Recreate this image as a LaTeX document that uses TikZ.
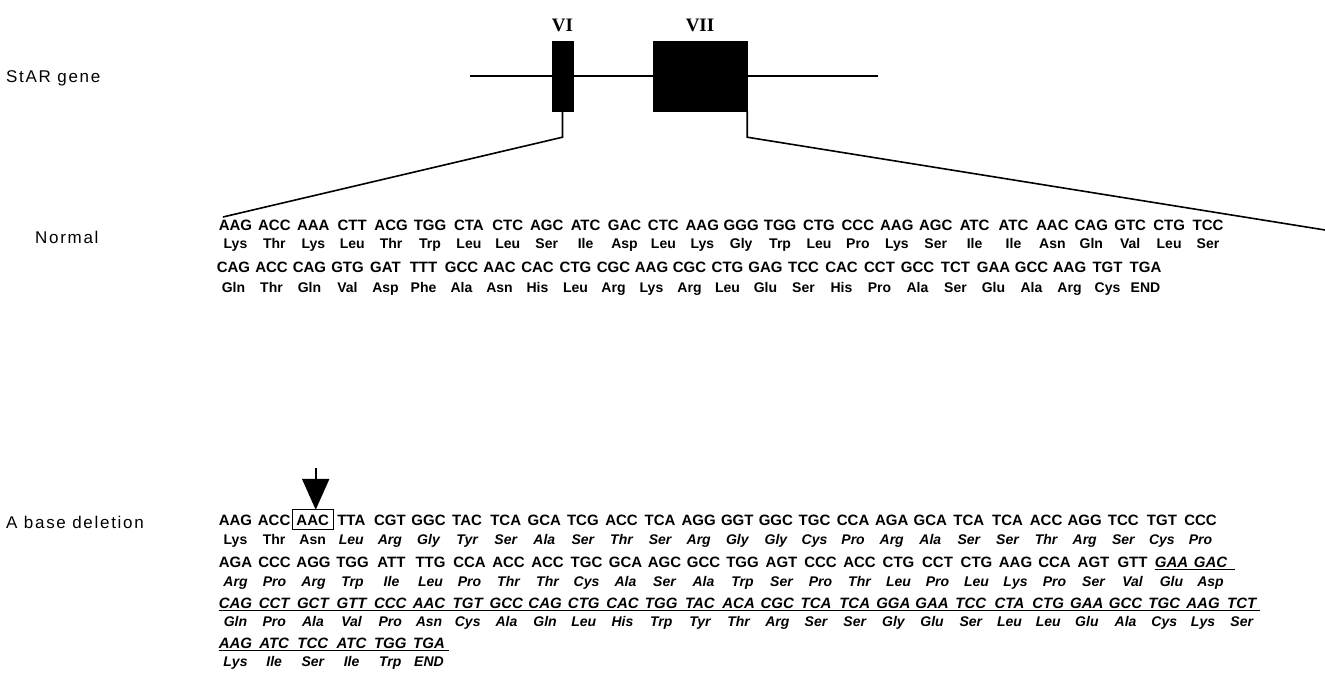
\documentclass[tikz,border=0pt]{standalone}
\usepackage{fontspec}
\setmainfont{Liberation Sans}
\newfontfamily\exonfont{Liberation Serif}
\newfontfamily\tagfont[LetterSpace=10]{Liberation Sans}
\usetikzlibrary{arrows.meta, positioning}

\begin{document}
\begin{tikzpicture}[x=1pt, y=-1pt,
    dna/.style={inner sep=0pt, text height=11pt, text depth=3pt,
      font=\fontsize{15}{17}\selectfont\bfseries},
    dnait/.style={dna, font=\fontsize{15}{17}\selectfont\bfseries\itshape},
    amino/.style={inner sep=0pt, text height=10pt, text depth=3pt,
      font=\fontsize{14}{16}\selectfont\bfseries},
    aminoit/.style={amino, font=\fontsize{14}{16}\selectfont\bfseries\itshape},
    tag/.style={anchor=west, inner sep=0pt, font=\tagfont\fontsize{17}{19}\selectfont},
    exon/.style={draw, fill=black, inner sep=0pt, minimum height=70},
    exonlab/.style={inner sep=0pt, font=\exonfont\bfseries\fontsize{19}{21}\selectfont},
    gene/.style={line width=1.8pt},
    lead/.style={line width=1.6pt},
    uline/.style={line width=1.4pt},
    pointer/.style={line width=2.2pt, -{Triangle[width=27pt,length=31pt]}},
  ]
  \useasboundingbox (0,0) rectangle (1325,674);

  % gene map
  \node[tag] (star) at (6,78) {StAR gene};
  \node[exon, minimum width=21] (exVI) at (562.5,76) {};
  \node[exon, minimum width=94] (exVII) at (700,76) {};
  \node[exonlab, above=9pt of exVI] (labVI) {VI};
  \node[exonlab, above=9pt of exVII] (labVII) {VII};
  \coordinate (gl) at (470,76);
  \coordinate (gr) at (878,76);
  \draw[gene] (gl) -- (exVI) -- (exVII) -- (gr);

  % normal sequence
  \node[tag] (normal) at (35,237) {Normal};
  \foreach \c/\a [count=\i from 0] in {AAG/Lys, ACC/Thr, AAA/Lys, CTT/Leu, ACG/Thr,
      TGG/Trp, CTA/Leu, CTC/Leu, AGC/Ser, ATC/Ile, GAC/Asp, CTC/Leu, AAG/Lys, GGG/Gly,
      TGG/Trp, CTG/Leu, CCC/Pro, AAG/Lys, AGC/Ser, ATC/Ile, ATC/Ile, AAC/Asn, CAG/Gln,
      GTC/Val, CTG/Leu, TCC/Ser} {
    \node[dna] (n1c\i) at ({235.5+\i*38.9},226) {\c};
    \node[amino] (n1a\i) at ({235.5+\i*38.9},245) {\a};
  }
  \foreach \c/\a [count=\i from 0] in {CAG/Gln, ACC/Thr, CAG/Gln, GTG/Val, GAT/Asp,
      TTT/Phe, GCC/Ala, AAC/Asn, CAC/His, CTG/Leu, CGC/Arg, AAG/Lys, CGC/Arg, CTG/Leu,
      GAG/Glu, TCC/Ser, CAC/His, CCT/Pro, GCC/Ala, TCT/Ser, GAA/Glu, GCC/Ala, AAG/Arg,
      TGT/Cys, TGA/END} {
    \node[dna] (n2c\i) at ({233.5+\i*38.0},268) {\c};
    \node[amino] (n2a\i) at ({233.5+\i*38.0},289) {\a};
  }

  % zoom-in leads
  \coordinate (lfoot) at (223,217);
  \coordinate (rfoot) at (1325,230);
  \draw[lead] (exVI.south) -- ++(0,26) -- (lfoot);
  \draw[lead] (exVII.south east) -- ++(0,26) -- (rfoot);

  % deletion sequence
  \node[tag] (deletion) at (6,522) {A base deletion};
  \foreach \c/\a [count=\i from 0] in {AAG/Lys, ACC/Thr, AAC/Asn} {
    \node[dna] (d1c\i) at ({235.5+\i*38.6},521) {\c};
    \node[amino] (d1a\i) at ({235.5+\i*38.6},541) {\a};
  }
  \foreach \c/\a [count=\i from 3] in {TTA/Leu, CGT/Arg, GGC/Gly, TAC/Tyr, TCA/Ser,
      GCA/Ala, TCG/Ser, ACC/Thr, TCA/Ser, AGG/Arg, GGT/Gly, GGC/Gly, TGC/Cys, CCA/Pro,
      AGA/Arg, GCA/Ala, TCA/Ser, TCA/Ser, ACC/Thr, AGG/Arg, TCC/Ser, TGT/Cys, CCC/Pro} {
    \node[dna] (d1c\i) at ({235.5+\i*38.6},521) {\c};
    \node[aminoit] (d1a\i) at ({235.5+\i*38.6},541) {\a};
  }
  \draw[line width=1.2pt] ([xshift=-4pt,yshift=4pt]d1c2.north west)
    rectangle ([xshift=4pt,yshift=-1.5pt]d1c2.south east);
  \coordinate (arrtail) at ([xshift=3pt,yshift=46pt]d1c2.north);
  \draw[pointer] (arrtail) -- ([xshift=3pt,yshift=4pt]d1c2.north);

  \foreach \c/\a [count=\i from 0] in {AGA/Arg, CCC/Pro, AGG/Arg, TGG/Trp, ATT/Ile,
      TTG/Leu, CCA/Pro, ACC/Thr, ACC/Thr, TGC/Cys, GCA/Ala, AGC/Ser, GCC/Ala, TGG/Trp,
      AGT/Ser, CCC/Pro, ACC/Thr, CTG/Leu, CCT/Pro, CTG/Leu, AAG/Lys, CCA/Pro, AGT/Ser,
      GTT/Val} {
    \node[dna] (d2c\i) at ({235.5+\i*39.0},563) {\c};
    \node[aminoit] (d2a\i) at ({235.5+\i*39.0},583) {\a};
  }
  \foreach \c/\a [count=\i from 24] in {GAA/Glu, GAC/Asp} {
    \node[dnait] (d2c\i) at ({235.5+\i*39.0},563) {\c};
    \node[aminoit] (d2a\i) at ({235.5+\i*39.0},583) {\a};
  }
  \foreach \c/\a [count=\i from 0] in {CAG/Gln, CCT/Pro, GCT/Ala, GTT/Val, CCC/Pro,
      AAC/Asn, TGT/Cys, GCC/Ala, CAG/Gln, CTG/Leu, CAC/His, TGG/Trp, TAC/Tyr, ACA/Thr,
      CGC/Arg, TCA/Ser, TCA/Ser, GGA/Gly, GAA/Glu, TCC/Ser, CTA/Leu, CTG/Leu, GAA/Glu,
      GCC/Ala, TGC/Cys, AAG/Lys, TCT/Ser} {
    \node[dnait] (d3c\i) at ({235.5+\i*38.7},604) {\c};
    \node[aminoit] (d3a\i) at ({235.5+\i*38.7},623) {\a};
  }
  \foreach \c/\a [count=\i from 0] in {AAG/Lys, ATC/Ile, TCC/Ser, ATC/Ile, TGG/Trp,
      TGA/END} {
    \node[dnait] (d4c\i) at ({235.5+\i*38.7},644) {\c};
    \node[aminoit] (d4a\i) at ({235.5+\i*38.7},663) {\a};
  }

  % underlined frame-shifted part
  \draw[uline] ([yshift=1pt]d2c24.south west) -- ([xshift=8pt,yshift=1pt]d2c25.south east);
  \draw[uline] ([yshift=1pt]d3c0.south west) -- ([xshift=4pt,yshift=1pt]d3c26.south east);
  \draw[uline] ([yshift=1pt]d4c0.south west) -- ([xshift=4pt,yshift=1pt]d4c5.south east);
\end{tikzpicture}
\end{document}
